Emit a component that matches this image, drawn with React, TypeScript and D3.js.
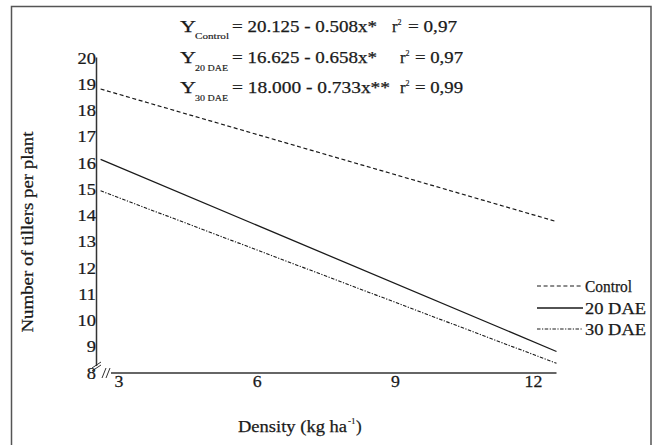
import React from "react";
import * as d3 from "d3";

const yTicks = [8, 9, 10, 11, 12, 13, 14, 15, 16, 17, 18, 19, 20];
const xTicks = [3, 6, 9, 12];
const seriesNames = ["Control", "20 DAE", "30 DAE"];
const lineX = [2.6, 12.5];
const controlY = [18.8, 13.75];
const dae20Y = [16.12, 8.8];
const dae30Y = [14.92, 8.35];
const eqSubs = ["Control", "20 DAE", "30 DAE"];
const eqBodies = ["= 20.125 - 0.508x*", "= 16.625 - 0.658x*", "= 18.000 - 0.733x**"];
const eqR2 = ["= 0,97", "= 0,97", "= 0,99"];

const W = 657;
const H = 445;
const FONT = "Liberation Serif";
const INK = "#1a1a1a";

export default function App() {
  const x = d3.scaleLinear().domain([2.5, 12.5]).range([96, 556.5]);
  const y = d3.scaleLinear().domain([8, 20]).range([372.5, 57.5]);
  const line = d3
    .line<[number, number]>()
    .x((d) => x(d[0]))
    .y((d) => y(d[1]));

  const series = [
    { name: seriesNames[0], vals: controlY, dash: "4,2.6", width: 1.2 },
    { name: seriesNames[1], vals: dae20Y, dash: "none", width: 1.3 },
    { name: seriesNames[2], vals: dae30Y, dash: "3.5,1.5,1.2,1.5", width: 1.1 },
  ];

  const eqLayout = [
    { base: 31.7, subBase: 39, bodyLen: 145, rX: 392, r2X: 408, r2Len: 49, subLen: 34 },
    { base: 62.7, subBase: 70.5, bodyLen: 145, rX: 400, r2X: 415, r2Len: 48, subLen: 33 },
    { base: 92.7, subBase: 100.5, bodyLen: 158, rX: 400, r2X: 415, r2Len: 48, subLen: 33 },
  ];

  const legendY = [286, 308, 329];
  const legendLen = [47, 61, 61];

  const txt = { fill: INK, stroke: INK, strokeWidth: 0.25 };

  return (
    <svg
      width={W}
      height={H}
      style={{ position: "absolute", left: 0, top: 0, background: "#fff", fontFamily: FONT }}
    >
      <style>{`text { font-family: "Liberation Serif", "Times New Roman", serif; }`}</style>
      <rect x={0} y={0} width={W} height={H} fill="#fff" />
      <rect x={11.5} y={6.5} width={639.5} height={460} fill="none" stroke="#555" strokeWidth={1.5} />

      {/* equations */}
      {eqBodies.map((b, i) => {
        const L = eqLayout[i];
        return (
          <g key={i} {...txt}>
            <text x={180} y={L.base} fontSize={16.5} textLength={16} lengthAdjust="spacingAndGlyphs">Y</text>
            <text x={195} y={L.subBase} fontSize={8.5} strokeWidth={0.15} textLength={L.subLen} lengthAdjust="spacingAndGlyphs">{eqSubs[i]}</text>
            <text x={232} y={L.base} fontSize={16.5} textLength={L.bodyLen} lengthAdjust="spacingAndGlyphs">{b}</text>
            <text x={L.rX} y={L.base} fontSize={16.5}>r</text>
            <text x={L.rX + 5.5} y={L.base - 7} fontSize={8} strokeWidth={0.15}>2</text>
            <text x={L.r2X} y={L.base} fontSize={16.5} textLength={L.r2Len} lengthAdjust="spacingAndGlyphs">{eqR2[i]}</text>
          </g>
        );
      })}

      {/* axes */}
      <line x1={x(2.5) + 0.5} x2={x(2.5) + 0.5} y1={y(20)} y2={366} stroke="#333" strokeWidth={1.5} />
      <line x1={111} x2={x(12.5)} y1={373} y2={373} stroke="#333" strokeWidth={1.5} />
      {/* axis breaks */}
      <g stroke="#333" strokeWidth={1}>
        <line x1={92} y1={368} x2={101} y2={362} />
        <line x1={92} y1={371} x2={101} y2={365} />
        <line x1={102} y1={378} x2={106} y2={368} />
        <line x1={106} y1={378} x2={110} y2={368} />
      </g>

      {/* y tick labels */}
      {yTicks.map((t) => (
        <text
          key={t}
          transform={`translate(${96},${y(t) + 6}) scale(1.12,1)`}
          textAnchor="end"
          fontSize={16.5}
          {...txt}
        >
          {t}
        </text>
      ))}
      {/* x tick labels */}
      {xTicks.map((t) => (
        <text
          key={t}
          transform={`translate(${x(t)},${386.5}) scale(1.08,1)`}
          textAnchor="middle"
          fontSize={16.5}
          {...txt}
        >
          {t}
        </text>
      ))}

      {/* lines */}
      {series.map((s) => (
        <path
          key={s.name}
          d={line(lineX.map((v, i) => [v, s.vals[i]] as [number, number])) || ""}
          fill="none"
          stroke={INK}
          strokeWidth={s.width}
          strokeDasharray={s.dash}
        />
      ))}

      {/* legend */}
      {series.map((s, i) => (
        <g key={s.name}>
          <line x1={537} x2={583} y1={legendY[i]} y2={legendY[i]} stroke={INK} strokeWidth={s.width} strokeDasharray={s.dash} />
          <text x={585} y={legendY[i] + 5.5} fontSize={16.5} {...txt} textLength={legendLen[i]} lengthAdjust="spacingAndGlyphs">
            {s.name}
          </text>
        </g>
      ))}

      {/* axis titles */}
      <text
        transform={`translate(32.5,232) rotate(-90)`}
        textAnchor="middle"
        fontSize={16}
        {...txt}
        textLength={201}
        lengthAdjust="spacingAndGlyphs"
      >
        Number of tillers per plant
      </text>
      <g {...txt}>
        <text x={238} y={432} fontSize={17} textLength={109} lengthAdjust="spacingAndGlyphs">Density (kg ha</text>
        <text x={348} y={424} fontSize={9} strokeWidth={0.15}>-1</text>
        <text x={356} y={432} fontSize={17}>)</text>
      </g>
    </svg>
  );
}
